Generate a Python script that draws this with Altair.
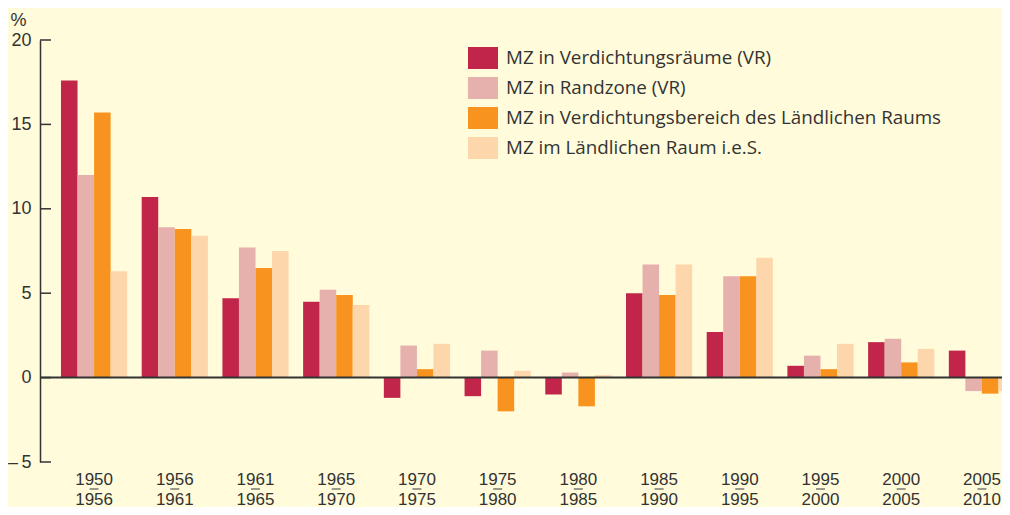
import altair as alt
import pandas as pd

periods = ["1950/1956", "1956/1961", "1961/1965", "1965/1970", "1970/1975", "1975/1980",
           "1980/1985", "1985/1990", "1990/1995", "1995/2000", "2000/2005", "2005/2010"]
series = ["MZ in Verdichtungsräume (VR)",
          "MZ in Randzone (VR)",
          "MZ in Verdichtungsbereich des Ländlichen Raums",
          "MZ im Ländlichen Raum i.e.S."]
vr_values = [17.6, 10.7, 4.7, 4.5, -1.2, -1.1, -1.0, 5.0, 2.7, 0.7, 2.1, 1.6]
randzone_values = [12.0, 8.9, 7.7, 5.2, 1.9, 1.6, 0.3, 6.7, 6.0, 1.3, 2.3, -0.8]
verdichtung_lr_values = [15.7, 8.8, 6.5, 4.9, 0.5, -2.0, -1.7, 4.9, 6.0, 0.5, 0.9, -0.95]
laendlich_values = [6.3, 8.4, 7.5, 4.3, 2.0, 0.4, 0.15, 6.7, 7.1, 2.0, 1.7, -0.8]
colors = ["#C1264A", "#E6B1AC", "#F7931E", "#FDD7AB"]
y_ticks = [-5, 0, 5, 10, 15, 20]

FONT = "Liberation Sans"
LEGEND_FONT = "Open Sans"
BG = "#FFFBDB"
DARK = "#333333"

rows = []
for name, vals in zip(series, [vr_values, randzone_values, verdichtung_lr_values, laendlich_values]):
    for p, v in zip(periods, vals):
        rows.append({"period": p, "series": name, "value": v})
df = pd.DataFrame(rows)
ticks_df = pd.DataFrame({"v": y_ticks})
period_df = pd.DataFrame({"period": periods})

W, H = 962, 422

x_scale = alt.Scale(domain=periods, range=[0, 996], paddingInner=0.18, paddingOuter=0.26)
y_scale = alt.Scale(domain=[-5, 20], nice=False, zero=False)

symbol_path = "M-1.364,-1H1.364V1H-1.364Z"

bars = alt.Chart(df).mark_bar(clip=True).encode(
    x=alt.X("period:N", scale=x_scale, sort=periods,
            axis=alt.Axis(title=None, domain=False, ticks=False, labelAngle=0,
                          labelFont=FONT, labelFontSize=17, labelColor=DARK,
                          labelPadding=9, labelLineHeight=20,
                          labelExpr="split(datum.label, '/')")),
    xOffset=alt.XOffset("series:N", sort=series, scale=alt.Scale(domain=series)),
    y=alt.Y("value:Q", scale=y_scale,
            axis=alt.Axis(values=y_ticks, grid=False, ticks=False, domainColor=DARK,
                          domainWidth=1.5, labelFont=FONT, labelFontSize=18,
                          labelColor=DARK, labelPadding=9,
                          labelExpr="datum.value < 0 ? '–\u2009' + abs(datum.value) : datum.label",
                          title="%", titleAngle=0, titleFont=FONT, titleFontSize=18,
                          titleFontWeight="normal", titleColor=DARK, titleAlign="left",
                          titleBaseline="alphabetic", titleX=-30, titleY=-15)),
    color=alt.Color("series:N", sort=series,
                    scale=alt.Scale(domain=series, range=colors),
                    legend=alt.Legend(title=None, orient="none", legendX=432, legendY=7,
                                      direction="vertical", symbolType=symbol_path,
                                      symbolSize=484, symbolStrokeWidth=0,
                                      symbolOpacity=1, labelFont=LEGEND_FONT, labelFontSize=18.8,
                                      labelColor=DARK, labelOffset=12, rowPadding=8,
                                      labelLimit=600, padding=0)),
)

# small dash between the two years of each period label
period_dash = alt.Chart(period_df).mark_tick(orient="horizontal", color=DARK,
                                             thickness=1.4, size=9).encode(
    x=alt.X("period:N", scale=x_scale, sort=periods),
    y=alt.value(H + 27),
)

zero_line = alt.Chart(pd.DataFrame({"z": [0]})).mark_rule(color=DARK, strokeWidth=2).encode(
    y=alt.Y("z:Q", scale=y_scale)
)

y_tick_marks = alt.Chart(ticks_df).mark_rule(color=DARK, strokeWidth=1.5).encode(
    y=alt.Y("v:Q", scale=y_scale),
    x=alt.value(0),
    x2=alt.value(11),
)

chart = alt.layer(bars, zero_line, y_tick_marks, period_dash).properties(
    width=W, height=H,
    autosize=alt.AutoSizeParams(type="none"),
    padding={"left": 32, "top": 32, "right": 0, "bottom": 45},
    background=BG,
).configure_view(stroke=None)

chart.save("out.html", embed_options={"renderer": "svg", "actions": False})
